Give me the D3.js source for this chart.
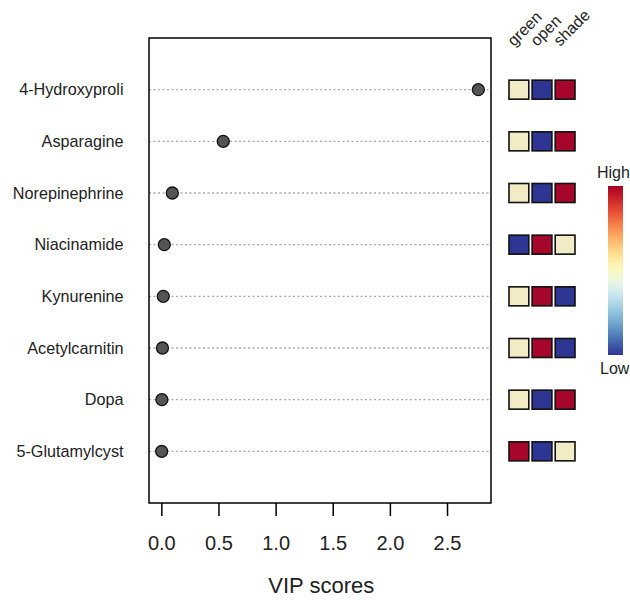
<!DOCTYPE html>
<html><head><meta charset="utf-8">
<script src="https://cdn.jsdelivr.net/npm/d3@7/dist/d3.min.js"></script>
<style>body{margin:0;background:#fff}svg{display:block}text{font-family:"Liberation Sans",Arial,sans-serif}</style>
</head><body><svg id="c" width="630" height="600"></svg>
<script>
const names = ["4-Hydroxyproli","Asparagine","Norepinephrine","Niacinamide","Kynurenine","Acetylcarnitin","Dopa","5-Glutamylcyst"];
const vip = [2.774, 0.542, 0.096, 0.026, 0.017, 0.010, 0.005, 0.003];
const groups = ["green","open","shade"];
// level per group: 0 low, 1 mid, 2 high
const levels = [
  [1,0,2],
  [1,0,2],
  [1,0,2],
  [0,2,1],
  [1,2,0],
  [1,2,0],
  [1,0,2],
  [2,0,1]
];
const xTicks = [0,0.5,1,1.5,2,2.5];
const levelColors = ["#2E3593","#F1EBC6","#A6062A"];
const legendLabels = ["High","Low"];

const svg = d3.select("#c");
const L=149,R=491,T=38,B=503;
const mn=d3.min(vip), mx=d3.max(vip), pad=(mx-mn)*0.04;
const x = d3.scaleLinear().domain([mn-pad, mx+pad]).range([L,R]);
const y = d3.scaleLinear().domain([0, names.length+1]).range([T,B]);

svg.selectAll("line.g").data(names).join("line")
  .attr("x1",L).attr("x2",R)
  .attr("y1",(d,i)=>y(i+1)).attr("y2",(d,i)=>y(i+1))
  .attr("stroke","#aaaaaa").attr("stroke-width",1.3).attr("stroke-dasharray","2,2.5");

svg.append("rect").attr("x",L).attr("y",T).attr("width",R-L).attr("height",B-T)
  .attr("fill","none").attr("stroke","#000").attr("stroke-width",1.5);

svg.selectAll("circle.p").data(vip).join("circle")
  .attr("cx",d=>x(d)).attr("cy",(d,i)=>y(i+1)).attr("r",6)
  .attr("fill","#555555").attr("stroke","#111").attr("stroke-width",1.3);

svg.selectAll("text.y").data(names).join("text")
  .attr("x",123.5).attr("y",(d,i)=>y(i+1)).attr("dy","0.36em")
  .attr("text-anchor","end").attr("font-size",16.2).attr("fill","#222").text(d=>d);

const ax = svg.append("g").attr("transform",`translate(0,${B})`)
  .call(d3.axisBottom(x).tickValues(xTicks).tickFormat(d3.format(".1f")).tickSize(13).tickPadding(20));
ax.select(".domain").remove();
ax.selectAll(".tick line").attr("stroke","#000").attr("stroke-width",1.5);
ax.selectAll(".tick text").attr("font-size",20).attr("fill","#222").attr("font-family","Liberation Sans, Arial, sans-serif");

svg.append("text").attr("x",x(1.4)).attr("y",600-7).attr("text-anchor","middle")
  .attr("font-size",22).attr("fill","#222").text("VIP scores");

const sx = d3.scaleBand().domain(groups).range([508.5,575.5]).paddingInner(0.1);
levels.forEach((row,i)=>{
  svg.selectAll(null).data(row).join("rect")
    .attr("x",(d,j)=>sx(groups[j])+0.5).attr("y",y(i+1)-9.5)
    .attr("width",sx.bandwidth()-1).attr("height",19)
    .attr("fill",d=>levelColors[d]).attr("stroke","#111").attr("stroke-width",1.6);
});
svg.selectAll("text.h").data(groups).join("text")
  .attr("transform",d=>`translate(${sx(d)+sx.bandwidth()/2-5},47) rotate(-45)`)
  .attr("font-size",16).attr("fill","#222").text(d=>d);

const defs = svg.append("defs");
const grad = defs.append("linearGradient").attr("id","cb").attr("x1",0).attr("x2",0).attr("y1",0).attr("y2",1);
d3.range(0,1.001,0.05).forEach(t=>grad.append("stop").attr("offset",t).attr("stop-color",d3.interpolateRdYlBu(t)));
svg.append("rect").attr("x",608).attr("y",186).attr("width",15).attr("height",169).attr("fill","url(#cb)");
svg.append("text").attr("x",597).attr("y",178).attr("font-size",16).attr("fill","#222").text(legendLabels[0]);
svg.append("text").attr("x",600).attr("y",374).attr("font-size",16).attr("fill","#222").text(legendLabels[1]);
</script></body></html>
